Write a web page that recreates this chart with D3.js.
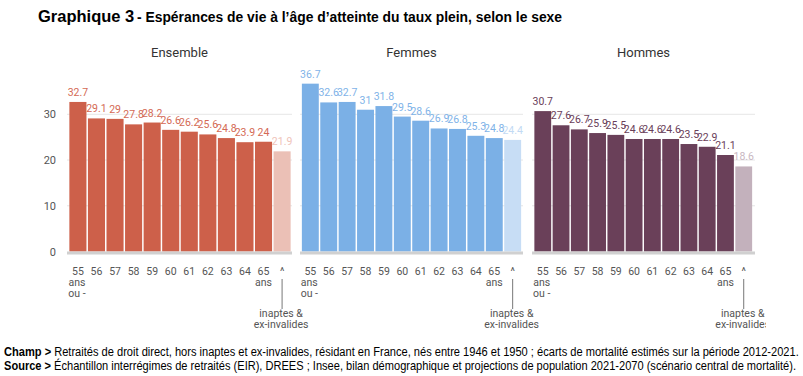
<!DOCTYPE html>
<html><head><meta charset="utf-8">
<script src="https://cdn.jsdelivr.net/npm/d3@7"></script>
<style>body{margin:0;background:#fff}svg{display:block}</style>
</head><body>
<script>
const categories = ["55","56","57","58","59","60","61","62","63","64","65","^"];
const ensemble = [32.7,29.1,29,27.8,28.2,26.6,26.2,25.6,24.8,23.9,24,21.9];
const femmes   = [36.7,32.6,32.7,31,31.8,29.5,28.6,26.9,26.8,25.3,24.8,24.4];
const hommes   = [30.7,27.6,26.7,25.9,25.5,24.6,24.6,24.6,23.5,22.9,21.1,18.6];
const panelTitles = ["Ensemble","Femmes","Hommes"];
const yTicks = [0,10,20,30];

const W=803,H=376;
const svg=d3.select("body").append("svg").attr("width",W).attr("height",H);

// Title
svg.append("text").attr("x",38).attr("y",22).attr("fill","#000").attr("font-weight","bold")
  .attr("font-family","Liberation Sans, Arial, sans-serif").attr("font-size",16.5).text("Graphique 3");
svg.append("text").attr("x",137).attr("y",22).attr("fill","#000").attr("font-weight","bold")
  .attr("font-family","Liberation Sans, Arial, sans-serif").attr("font-size",13.8)
  .attr("textLength",425).attr("lengthAdjust","spacingAndGlyphs")
  .text("- Espérances de vie à l’âge d’atteinte du taux plein, selon le sexe");

const y=d3.scaleLinear().domain([0,30]).range([251.5,114.3]);

const panels=[
  {title:panelTitles[0],data:ensemble,x0:69,x1:291,g0:67,g1:292,col:"#cd604a",light:"#ebc0b6",lab:"#d46a55",labL:"#efc3b9"},
  {title:panelTitles[1],data:femmes,x0:301.5,x1:521.5,g0:300,g1:523,col:"#7bb0e6",light:"#c7ddf5",lab:"#7fb3e8",labL:"#c2daf4"},
  {title:panelTitles[2],data:hommes,x0:534,x1:752.5,g0:532,g1:755,col:"#6a4059",light:"#c3b1bc",lab:"#6a4059",labL:"#c9b7c2"}
];

const defs=svg.append("defs");
defs.append("clipPath").attr("id","clipR").append("rect").attr("x",0).attr("y",0).attr("width",766).attr("height",H);

const lf="Roboto, Liberation Sans, sans-serif";
panels.forEach((p,pi)=>{
  const g=svg.append("g").attr("clip-path","url(#clipR)");
  const x=d3.scaleBand().domain(categories).range([p.x0,p.x1]).paddingInner(0.08).paddingOuter(0.02);
  g.selectAll(".grid").data(yTicks.slice(1)).join("line")
    .attr("x1",p.g0).attr("x2",p.g1).attr("y1",d=>y(d)).attr("y2",d=>y(d))
    .attr("stroke","#e6e6e6").attr("stroke-width",1);
  g.append("text").attr("x",(p.g0+p.g1)/2).attr("y",57).attr("text-anchor","middle")
    .attr("font-family",lf).attr("font-size",13).attr("fill","#333").text(p.title);
  if(pi===0){
    g.selectAll(".yl").data(yTicks).join("text").attr("x",56).attr("y",d=>y(d)+4)
      .attr("text-anchor","end").attr("font-family",lf).attr("font-size",11).attr("fill","#555").text(d=>d);
  }
  g.selectAll(".bar").data(p.data).join("rect")
    .attr("x",(d,i)=>x(categories[i])).attr("width",x.bandwidth())
    .attr("y",d=>y(d)).attr("height",d=>y(0)-y(d))
    .attr("fill",(d,i)=>i===categories.length-1?p.light:p.col);
  g.append("rect").attr("x",p.g0).attr("width",p.g1-p.g0).attr("y",y(0)).attr("height",3).attr("fill","#d0d0d0");
  g.selectAll(".vl").data(p.data).join("text")
    .attr("x",(d,i)=>x(categories[i])+x.bandwidth()/2).attr("y",d=>y(d)-6)
    .attr("text-anchor","middle").attr("font-family",lf).attr("font-size",10.5)
    .attr("fill",(d,i)=>i===categories.length-1?p.labL:p.lab).text(d=>d);
  g.selectAll(".xl").data(categories).join("text")
    .attr("x",d=>x(d)+x.bandwidth()/2).attr("y",275).attr("text-anchor","middle")
    .attr("font-family",lf).attr("font-size",10.5).attr("fill","#555").text(d=>d);
  const c0=x(categories[0])+x.bandwidth()/2;
  g.append("text").attr("x",c0-1).attr("y",286).attr("text-anchor","middle").attr("font-family",lf).attr("font-size",10.5).attr("fill","#555").text("ans");
  g.append("text").attr("x",c0-1).attr("y",297).attr("text-anchor","middle").attr("font-family",lf).attr("font-size",10.5).attr("fill","#555").text("ou -");
  const c10=x(categories[10])+x.bandwidth()/2;
  g.append("text").attr("x",c10).attr("y",286).attr("text-anchor","middle").attr("font-family",lf).attr("font-size",10.5).attr("fill","#555").text("ans");
  const c11=x(categories[11])+x.bandwidth()/2;
  g.append("line").attr("x1",c11).attr("x2",c11).attr("y1",279).attr("y2",309).attr("stroke","#777").attr("stroke-width",1);
  g.append("text").attr("x",c11-1).attr("y",317).attr("text-anchor","middle").attr("font-family",lf).attr("font-size",10.5).attr("fill","#555").text("inaptes &");
  g.append("text").attr("x",c11-1).attr("y",328).attr("text-anchor","middle").attr("font-family",lf).attr("font-size",10.5).attr("fill","#555").text("ex-invalides");
});

// Footer: narrow look by horizontal scaling to the reference width
const ff="Liberation Sans Narrow, Arial Narrow, Liberation Sans, sans-serif";
function footLine(yy, bold, rest, target){
  const g=svg.append("g");
  const t=g.append("text").attr("x",0).attr("y",0).attr("font-family",ff).attr("font-size",12).attr("fill","#000");
  t.append("tspan").attr("font-weight","bold").text(bold);
  t.append("tspan").text(rest);
  const w=t.node().getComputedTextLength();
  const s=Math.min(1,target/w);
  g.attr("transform",`translate(4,${yy}) scale(${s},1)`);
}
footLine(356,"Champ >"," Retraités de droit direct, hors inaptes et ex-invalides, résidant en France, nés entre 1946 et 1950 ; écarts de mortalité estimés sur la période 2012-2021.",795);
footLine(370,"Source >"," Échantillon interrégimes de retraités (EIR), DREES ; Insee, bilan démographique et projections de population 2021-2070 (scénario central de mortalité).",793);
</script>
</body></html>
